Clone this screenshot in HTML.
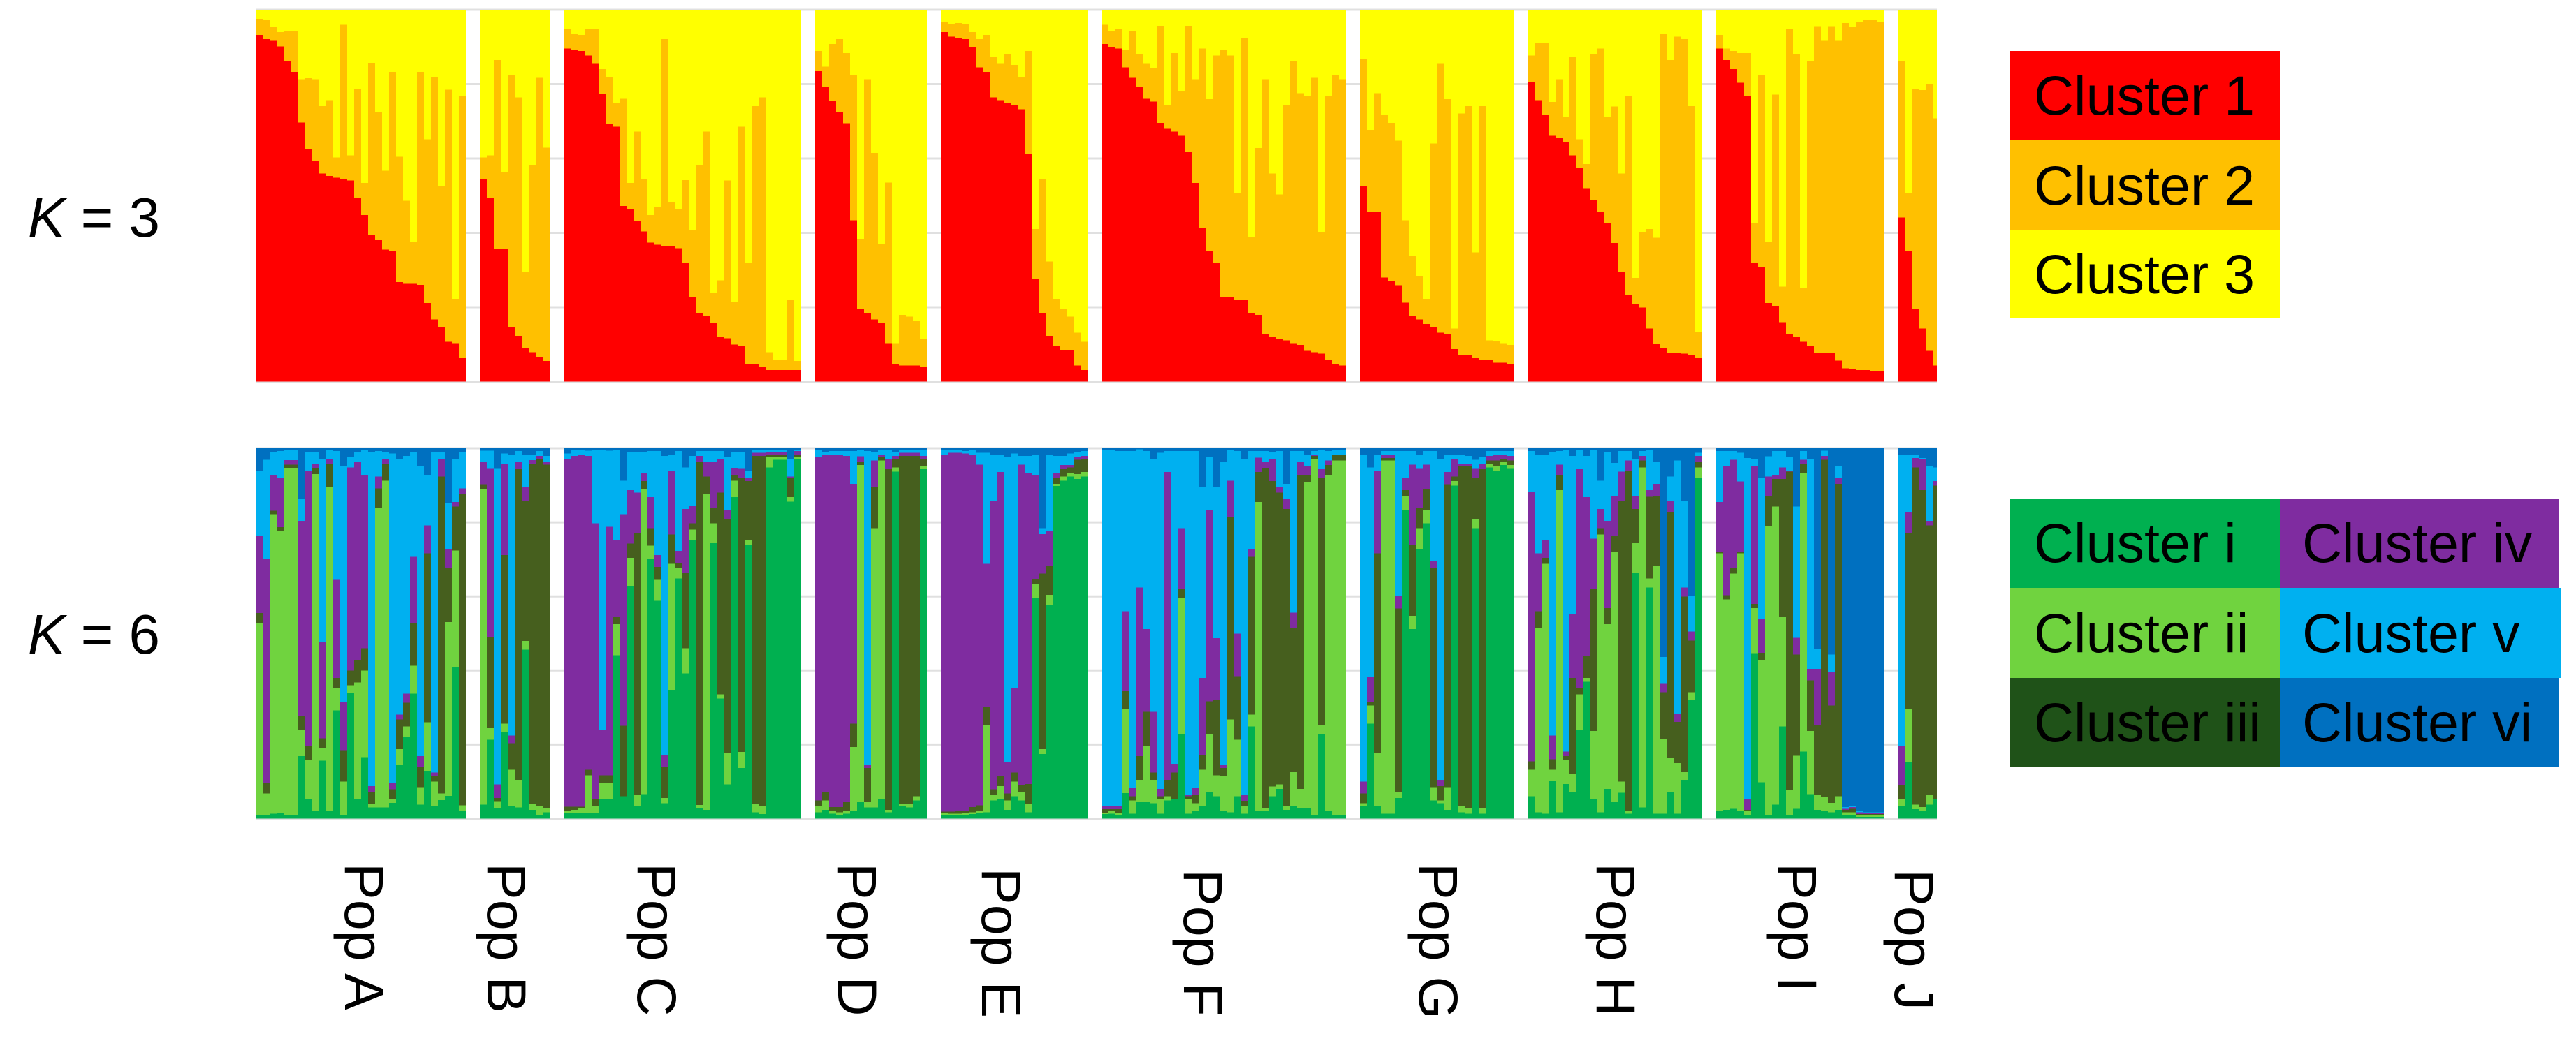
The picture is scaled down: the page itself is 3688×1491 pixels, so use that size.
<!DOCTYPE html>
<html lang="en">
<head>
<meta charset="utf-8">
<title>Population structure bar plots, K = 3 and K = 6</title>
<style>
html,body{margin:0;padding:0;background:#fff;}
svg{display:block;}
text{font-family:"Liberation Sans",Arial,sans-serif;fill:#000;}
</style>
</head>
<body>
<svg id="chart" xmlns="http://www.w3.org/2000/svg" width="3688" height="1491" viewBox="0 0 3688 1491">
  <rect x="0" y="0" width="3688" height="1491" fill="#ffffff"/>
  <g id="grid"></g>
  <g id="bars"></g>

  <text x="40" y="339" font-size="80"><tspan font-style="italic">K</tspan> = 3</text>
  <text x="40" y="936" font-size="80"><tspan font-style="italic">K</tspan> = 6</text>

  <g>
    <rect x="2878" y="73" width="386" height="127" fill="#ff0000"/>
    <rect x="2878" y="200" width="386" height="129" fill="#ffc000"/>
    <rect x="2878" y="329" width="386" height="127" fill="#ffff00"/>
    <text x="2912" y="164" font-size="79">Cluster 1</text>
    <text x="2912" y="293" font-size="79">Cluster 2</text>
    <text x="2912" y="420" font-size="79">Cluster 3</text>
  </g>

  <g>
    <rect x="2878" y="714" width="386" height="128" fill="#00b050"/>
    <rect x="2878" y="842" width="386" height="129" fill="#70d33f"/>
    <rect x="2878" y="971" width="386" height="127" fill="#1f5218"/>
    <rect x="3264" y="714" width="399" height="128" fill="#7f2ca0"/>
    <rect x="3264" y="842" width="402" height="129" fill="#00b0f0"/>
    <rect x="3264" y="971" width="399" height="127" fill="#0070c0"/>
    <text x="2912" y="805" font-size="79">Cluster i</text>
    <text x="2912" y="934" font-size="79">Cluster ii</text>
    <text x="2912" y="1062" font-size="79">Cluster iii</text>
    <text x="3296" y="805" font-size="79">Cluster iv</text>
    <text x="3296" y="934" font-size="79">Cluster v</text>
    <text x="3296" y="1062" font-size="79">Cluster vi</text>
  </g>

  <g font-size="79">
    <text transform="translate(494,1236) rotate(90)">Pop A</text>
    <text transform="translate(698,1236) rotate(90)">Pop B</text>
    <text transform="translate(913,1236) rotate(90)">Pop C</text>
    <text transform="translate(1200,1236) rotate(90)">Pop D</text>
    <text transform="translate(1406,1243) rotate(90)">Pop E</text>
    <text transform="translate(1695,1245) rotate(90)">Pop F</text>
    <text transform="translate(2032,1236) rotate(90)">Pop G</text>
    <text transform="translate(2286,1236) rotate(90)">Pop H</text>
    <text transform="translate(2546,1236) rotate(90)">Pop I</text>
    <text transform="translate(2713,1245) rotate(90)">Pop J</text>
  </g>
</svg>
<script>
// Percent ancestry, cumulative from the bottom of each bar.
const axisTicks = [0, 20, 40, 60, 80, 100];

// K = 3: top of cluster 1, top of cluster 2 (cluster 3 fills to 100).
const k3PopACluster1 = [93.2,92.1,91.6,90.1,86.1,83.3,69.7,62.4,59.3,56.0,55.3,54.8,54.5,54.1,49.5,44.8,39.5,38.0,35.5,35.1,26.8,26.3,26.3,26.0,21.1,16.7,14.7,10.7,10.3,6.3];
const k3PopACluster2 = [97.6,97.4,95.3,94.0,94.4,94.4,81.3,81.6,81.3,74.1,75.7,60.3,96.0,60.8,78.8,53.4,85.7,72.4,56.7,83.3,60.5,48.6,37.5,83.3,65.2,82.0,52.7,78.5,22.3,76.9];
const k3PopBCluster1 = [54.6,49.5,35.6,35.6,14.7,12.3,9.1,7.9,6.7,5.5];
const k3PopBCluster2 = [60.3,60.8,86.5,56.4,82.4,76.4,29.5,58.2,81.7,62.9];
const k3PopCCluster1 = [89.6,89.3,88.9,87.7,85.6,77.3,69.2,68.5,47.2,46.3,43.3,40.4,37.4,36.8,36.4,36.4,35.9,31.8,22.7,18.3,17.6,15.9,12.0,11.6,10.0,9.5,4.7,4.7,4.0,3.1,3.1,3.1,3.1,3.1];
const k3PopCCluster2 = [94.8,93.6,93.2,94.8,94.8,84.0,82.0,74.9,76.1,53.4,67.2,54.6,44.8,46.9,92.1,48.2,46.3,54.2,40.8,58.2,67.2,23.9,27.2,54.1,21.5,68.5,31.8,74.1,76.4,7.9,5.9,5.9,22.0,5.5];
const k3PopDCluster1 = [83.7,79.2,75.6,72.4,69.5,43.4,19.6,18.3,16.7,15.9,10.3,4.7,4.3,4.3,4.3,3.9];
const k3PopDCluster2 = [88.9,84.7,90.8,92.1,88.4,82.4,38.3,81.3,61.5,37.1,53.5,10.3,17.9,17.5,16.2,11.5];
const k3PopECluster1 = [94.0,92.8,92.5,92.1,90.0,84.5,83.3,76.4,75.7,74.9,74.5,73.2,61.3,27.7,18.3,12.3,9.5,8.4,8.4,4.3,3.1];
const k3PopECluster2 = [96.8,96.2,96.4,96.1,94.0,92.1,93.2,87.2,85.6,88.0,85.2,82.0,88.9,41.0,54.6,32.3,22.3,19.5,17.5,13.1,10.7];
const k3PopFCluster1 = [90.8,90.0,89.6,84.5,81.7,79.2,76.1,75.3,69.6,68.0,67.2,66.1,61.7,53.4,41.2,35.2,31.8,22.7,22.7,22.0,22.0,18.3,17.9,12.7,11.9,11.5,11.1,10.3,9.9,8.3,7.9,7.5,5.9,4.7,4.3];
const k3PopFCluster2 = [96.0,94.4,94.8,89.3,94.4,88.1,85.6,84.4,95.7,74.4,88.4,78.0,95.7,81.3,89.6,76.0,87.7,89.3,87.7,50.7,92.5,38.8,62.8,81.3,56.0,50.3,74.4,86.1,77.6,76.8,81.7,40.3,76.8,82.4,81.3];
const k3PopGCluster1 = [52.7,45.6,45.6,28.0,27.1,25.9,21.2,17.6,16.7,15.5,14.7,13.1,12.7,8.7,7.1,7.1,6.3,5.9,5.9,5.1,5.1,4.7];
const k3PopGCluster2 = [86.8,67.7,77.6,71.6,69.6,64.8,43.4,33.8,28.3,22.3,64.0,85.6,76.0,14.3,72.1,74.1,34.7,74.1,11.1,10.8,10.3,9.9];
const k3PopHCluster1 = [80.5,75.7,71.7,66.1,65.6,64.5,60.8,57.5,52.0,48.7,45.5,42.7,37.3,29.5,23.2,20.8,19.9,14.3,10.2,9.1,7.6,7.6,7.5,7.0,6.3];
const k3PopHCluster2 = [87.7,91.2,91.2,75.2,81.3,71.2,87.2,65.2,58.5,88.0,89.6,71.2,74.0,56.0,76.9,27.9,40.1,41.0,38.7,93.6,86.5,92.8,92.1,74.1,13.4];
const k3PopICluster1 = [89.6,86.5,84.0,80.4,76.9,32.0,30.7,21.1,20.4,16.0,12.7,11.9,10.7,9.5,7.6,7.6,7.6,5.6,3.6,3.4,3.1,3.1,2.7,2.7];
const k3PopICluster2 = [93.2,89.6,88.9,88.4,88.4,42.7,82.4,37.5,77.2,25.5,94.8,88.0,25.1,86.1,95.6,91.6,95.6,91.6,96.4,95.3,96.7,97.2,97.2,96.8];
const k3PopJCluster1 = [44.1,35.2,19.6,14.3,8.3,4.3];
const k3PopJCluster2 = [86.1,50.7,78.8,78.4,80.1,70.8];

// K = 6: each bar lists the tops of clusters i, ii, iii, iv, v (cluster vi fills to 100).
const k6PopA = [[0.9,52.8,55.5,76.4,94.0],[0.9,6.8,9.6,70.0,96.9],[1.3,82.2,83.1,92.7,99],[1.6,77.7,78.7,91.9,99.2],[0.9,94.7,95.6,96.8,99.5],[0.9,94.7,95.6,96.8,99.5],[16.9,24.0,27.7,80.4,86.4],[5.4,15.7,19.7,94,99.1],[2.2,93.0,94.7,95.9,99],[15.6,18.9,21.7,47.6,97.2],[2.2,89.6,95.8,97.2,99.5],[29.2,35.3,38,64.5,99.2],[0.9,10,18.5,31.6,95.1],[34,36,40,94.8,97.6],[5.4,36.8,42.7,96.4,99.1],[16.6,40,46,92.7,99.5],[3,4,7.2,8.8,99.1],[3,84,89.2,92.4,99.2],[3,91.2,95.9,97.2,99.1],[4.2,5.3,7.9,9.6,98.6],[14.4,18.8,26.8,28.1,97.2],[22,24.9,31.3,33.7,97.9],[33.7,41.3,52.8,70.7,99.1],[3.8,8.5,13.9,16.9,95.1],[12.9,26,71.6,79.2,92.7],[3.5,10,11.6,12.4,99.1],[5,6.8,92.4,97.2,99.1],[6.1,53.1,67.7,72.8,85.2],[40.9,72.4,84.3,85.5,97],[2.1,3.6,87.6,89.2,99.1]];
const k6PopB = [[3.8,89.1,90.3,96.3,99.3],[21.3,24.4,49.1,94.4,99.3],[2.9,4.7,5.6,9.2,94.4],[23.3,25.6,71.2,95.9,98.6],[3.5,13.2,20.4,22.4,98.3],[3,10.5,94.3,96.3,99.2],[45.6,48,85.9,89.6,98.3],[2.4,4,95.7,96.8,98.3],[0.9,3.3,97.2,97.9,99.2],[1.7,2.9,95.6,96.3,97.9]];
const k6PopC = [[1.4,2.1,3.2,97.2,98.6],[1.4,2.4,3.2,97.9,99.5],[1.4,2.9,3.2,98.3,99.5],[1.4,11.7,13.2,97.9,99.3],[1.4,3.3,5.2,79.7,99.5],[5.4,9.6,11.7,24,99.5],[5.4,9.6,11.7,78.8,99.3],[44.1,52.5,54.4,75.3,99.5],[6,6,25.1,82.2,91.2],[62.9,70.4,74.3,88.7,99],[3.4,6.5,77.2,88,99],[6.6,89.1,91.1,93.2,99],[70.1,73.7,78.4,86.8,99.2],[58.8,64.5,68,71.2,99.2],[4.1,5.6,13.9,17.2,97.9],[34.8,68.8,76.7,94,98.3],[64.8,67.6,69.1,72.3,99.2],[39.2,46,66.3,83.6,94.8],[75.2,78,79.7,84.4,97.9],[2.9,3.7,96.3,97.9,99.2],[2.4,87.6,92.4,96.3,99.2],[74.4,79.7,84,96.3,99.2],[32.4,33.6,88,97.2,99.2],[9.2,17.6,80.8,83.2,97.6],[86.8,91.2,92.7,94.7,99],[13.7,18,92,94.4,99],[73.9,75.2,91.1,91.9,94],[1.7,4,97.9,98.8,99.5],[1.2,3.3,97.9,98.8,99.5],[94.8,97.6,98.3,99,99.5],[96.9,97.6,98.3,99,99.5],[96.9,97.6,98.3,99,99.5],[85.6,86.8,92,92.4,97.2],[97.2,97.6,98.3,99.2,99.5]];
const k6PopD = [[1.7,3.3,4.9,97.6,99.5],[2.4,4.9,7.3,98.1,99],[1.3,2.1,3.1,98.3,99.2],[1,1.7,3.1,98.3,99.2],[1.3,2.1,4.4,97.9,99.2],[2.1,19.3,25.6,90.4,99.2],[4.5,95.5,96.3,97.8,99.5],[3,4.5,13.7,14.4,99.2],[3,78.4,89.6,96.7,99],[5.2,96.7,97.6,98.3,99.5],[1.7,2.4,94.3,97.2,99.5],[93.7,94.8,97.2,97.9,99],[3.3,4,97.9,98.8,99.5],[3,4,97.9,98.8,99.5],[4.9,6,97.9,98.8,99.5],[94.3,95.1,97.2,97.9,99.5]];
const k6PopE = [[1,1.6,1.9,98.3,99.5],[1,1.3,1.9,98.8,99.5],[1,1.3,2,98.8,99.5],[1,1.6,2,98.6,99.2],[1.2,1.7,3.1,98.3,99.5],[1.6,2.1,3.6,95.6,98.8],[1.7,25.2,30.3,68.8,98.8],[4.9,6.4,7.9,85.9,98.3],[5.4,8.8,11.5,93.6,98.3],[2.4,4.9,6.8,15.3,97.6],[6,10,12.4,35.3,98.6],[4.9,7.3,9.1,95.6,97.9],[1.7,4,9.3,93.2,97.9],[59.7,63.2,64.7,92.8,98.3],[17.4,18.8,66.2,76.8,78.4],[57.7,60.4,68.3,77.6,98.3],[89.8,90.4,92,93.2,97.9],[91.2,92.4,94.3,95.5,97.9],[92.4,93.2,94.8,95.5,98.6],[91.7,93,96.9,97.6,99],[92.4,93.6,97.2,97.9,99.2]];
const k6PopF = [[1.2,1.6,2.6,3.3,99.5],[1.3,2.1,2.6,3.3,99.5],[1,1.6,2.6,3.3,99.2],[6.9,29.6,34.5,56,99.2],[1.3,4.9,6,8.4,99.2],[4.5,10.5,16.9,62.4,99.7],[4.5,19.7,28.8,51.2,99.2],[4.1,10.5,12.4,28.8,97.2],[1.3,5.2,6,8,98.8],[4.9,6,10.5,93.6,99.2],[5.2,5.2,12.4,14.8,99.2],[22.9,59.6,62,78.4,99.2],[1.3,5.2,6,6.4,99.2],[2.1,4.1,6.4,8.4,99.2],[3.3,13.2,17.2,38,89.6],[7.3,22.8,31.7,83.2,97.6],[6,11.7,32,48.7,89.6],[2.1,11.4,13.7,14.4,96.4],[1.7,26.8,81.5,91.2,99.5],[6,21.3,38.5,50,99.2],[1.3,3.3,4.8,6.4,97.2],[24.9,28.1,70.7,72.8,99.2],[2.1,85.5,93.6,97.5,99.2],[2.1,2.9,94.7,96.4,99.2],[6,8.7,91.1,97.2,99],[8,9.2,88,89.6,99.2],[2.4,3.3,83.6,86.4,90.4],[3.3,12.5,51.6,55.6,99.2],[2.9,8,92.7,96.3,99.2],[2.9,90.8,92.7,95.1,98.3],[1,97.2,97.9,98.3,99.2],[22.9,25.2,91.9,94.3,99.5],[2.1,92.7,95.5,96.7,99.2],[1,96.7,98.1,98.3,99.5],[1,96.7,98.1,98.3,99.5]];
const k6PopG = [[3.3,4.1,6.8,10,98.3],[25.6,30.5,31.6,38.4,94.8],[3.3,17.6,71.6,94,98.3],[1.3,96.7,97.4,98.3,99.2],[1.3,96.7,97.4,98.3,99.2],[5.6,7.2,56.7,60,99.2],[83.3,87.1,88.7,91.9,99.2],[51.2,54.8,73.9,95.6,99.2],[72.8,78.4,84,94.4,98.3],[79.7,83.2,89.1,95.6,99.2],[4.9,8.5,67.6,69.6,99.2],[4.1,4.9,8.8,10.5,97.2],[2.4,8.5,90.3,93.6,98.3],[89.9,91.1,92.4,97.2,98.3],[1.7,3.3,95.1,95.8,98.3],[1.3,2.9,95.1,95.8,97.9],[78.4,80.8,91.9,94.4,96.9],[1.3,2.9,94.3,95.8,97.6],[94.8,95.8,96.7,97.9,99.2],[94,95.1,96.7,98.3,99.2],[95.5,96.4,97.2,98.3,99.2],[94.4,95.5,96.7,97.9,99.2]];
const k6PopH = [[6,13.2,15.5,88.3,99.2],[1.7,51.6,56,71.6,98.3],[1.3,68.8,70.4,75.2,98.3],[10.1,13.2,16,22.4,99],[1.7,88.7,92.7,95.6,99.2],[9.3,15.7,16.9,18.1,99.5],[7.3,12.1,38,55.2,97.9],[24,33.6,35.2,94.3,99.5],[36.9,38,44,86.8,97.9],[5.2,23.7,62,75.6,99.5],[1.7,76.7,78.4,83.6,91.2],[8,52.5,56.8,80.4,99],[4.5,72,76.3,87.1,96],[7,10,85.9,93.7,99.2],[1.3,2.1,93.9,96.7,99.2],[66.4,74.4,83.6,87.1,97.2],[3,94.8,96.7,97.9,99.2],[62.4,64.8,86.9,88.7,99.5],[1.3,68.3,87.1,90.4,96.2],[1.3,21.6,34.1,36.6,43.6],[7.3,16.5,82.7,85.9,92.4],[1.3,15,26.1,28.4,96.7],[10.5,12.5,59.9,62.4,85.9],[32,34.1,48.1,50.5,60.1],[91.9,94.8,96.4,97.9,98.8]];
const k6PopI = [[2.1,71.6,72.1,85.5,99.2],[2.4,59.2,60.3,95.1,99.2],[2.8,66.2,67.6,96.9,99.2],[2.1,71.6,72.1,91,98.8],[1,2.1,2.4,5.2,97.4],[44.7,56.8,58,95.1,97.2],[9.8,42.9,44.8,54,91.9],[1,79.1,87.1,92.4,97.8],[3.8,84.3,91.7,92.7,99.2],[24.9,54.4,91.7,94.8,99.2],[1,7.7,93.7,94,97.6],[2.8,17,44.3,48.8,84.3],[18.1,93.2,95.8,96.9,99.2],[6.6,23.7,37.3,40.4,97.2],[2.4,6.5,25.4,40.4,45.7],[2.1,5.9,96.9,97.9,99.3],[1.7,4.2,30.5,39.7,44.3],[2.4,6,90.4,91.9,95.1],[1,1.7,2.4,2.8,3.1],[1,1.7,2.8,3.1,3.3],[0.5,0.9,1.2,1.7,2.1],[0.5,0.9,1.2,1.6,1.7],[0.5,0.9,1.2,1.6,1.7],[0.5,0.9,1.2,1.6,1.7]];
const k6PopJ = [[3.5,5.2,9.1,19.7,98.3],[15.3,29.6,77.2,82.8,98.3],[2.6,3.8,94.8,97.4,98.3],[2.1,3.1,88.7,97.2,97.4],[3.8,6.4,79.2,80.4,95.1],[5.2,5.4,89.9,91.1,94.8]];

const k3Cluster1ByPop = [k3PopACluster1,k3PopBCluster1,k3PopCCluster1,k3PopDCluster1,k3PopECluster1,k3PopFCluster1,k3PopGCluster1,k3PopHCluster1,k3PopICluster1,k3PopJCluster1];
const k3Cluster2ByPop = [k3PopACluster2,k3PopBCluster2,k3PopCCluster2,k3PopDCluster2,k3PopECluster2,k3PopFCluster2,k3PopGCluster2,k3PopHCluster2,k3PopICluster2,k3PopJCluster2];
const k6ByPop = [k6PopA,k6PopB,k6PopC,k6PopD,k6PopE,k6PopF,k6PopG,k6PopH,k6PopI,k6PopJ];
const popKeys = ['a','b','c','d','e','f','g','h','i','j'];
const k3ClusterNames = ['1','2','3'];
const k6ClusterNames = ['i','ii','iii','iv','v','vi'];
const k3Colors = ['#ff0000','#ffc000','#ffff00'];
const k6Colors = ['#00b050','#70d33f','#465f1e','#7f2ca0','#00b0f0','#0070c0'];

const SVG_NS = 'http://www.w3.org/2000/svg';
const plotLeft = 367, plotRight = 2773, barWidth = 10, popGap = 20;
const yK3 = v => 546.5 - v * 5.325;
const yK6 = v => 1172.5 - v * 5.305;

function popLeft(popIndex) {
  let x = plotLeft;
  for (let p = 0; p < popIndex; p++) {
    x += k6ByPop[p].length * barWidth + popGap;
  }
  return x;
}

function drawGrid(yScale, rowName) {
  const g = document.getElementById('grid');
  axisTicks.forEach(function (t) {
    const line = document.createElementNS(SVG_NS, 'line');
    line.setAttribute('x1', plotLeft);
    line.setAttribute('x2', plotRight);
    line.setAttribute('y1', yScale(t));
    line.setAttribute('y2', yScale(t));
    line.setAttribute('stroke', '#e0e0e0');
    line.setAttribute('stroke-width', '3');
    
    
    g.appendChild(line);
  });
}

function drawStackedBar(parent, x, width, tops, colors, clusterNames, yScale, label) {
  let previous = 0;
  tops.concat([100]).forEach(function (top, k) {
    const r = document.createElementNS(SVG_NS, 'rect');
    r.setAttribute('x', x);
    r.setAttribute('width', width);
    r.setAttribute('y', yScale(top));
    r.setAttribute('height', Math.max(0, yScale(previous) - yScale(top)));
    r.setAttribute('fill', colors[k]);
    r.setAttribute('shape-rendering', 'crispEdges');
    
    
    parent.appendChild(r);
    previous = top;
  });
}

drawGrid(yK3, 'k3');
drawGrid(yK6, 'k6');

const barsRoot = document.getElementById('bars');
popKeys.forEach(function (key, p) {
  const left = popLeft(p);
  const group = document.createElementNS(SVG_NS, 'g');
  
  
  barsRoot.appendChild(group);
  k3Cluster1ByPop[p].forEach(function (c1, b) {
    const x = left + b * barWidth;
    const w = Math.min(barWidth, plotRight - x);
    drawStackedBar(group, x, w, [c1, k3Cluster2ByPop[p][b]], k3Colors, k3ClusterNames, yK3, 'k3-pop-' + key + '-bar-' + b);
  });
  k6ByPop[p].forEach(function (tops, b) {
    const x = left + b * barWidth;
    const w = Math.min(barWidth, plotRight - x);
    drawStackedBar(group, x, w, tops, k6Colors, k6ClusterNames, yK6, 'k6-pop-' + key + '-bar-' + b);
  });
});
</script>
</body>
</html>
